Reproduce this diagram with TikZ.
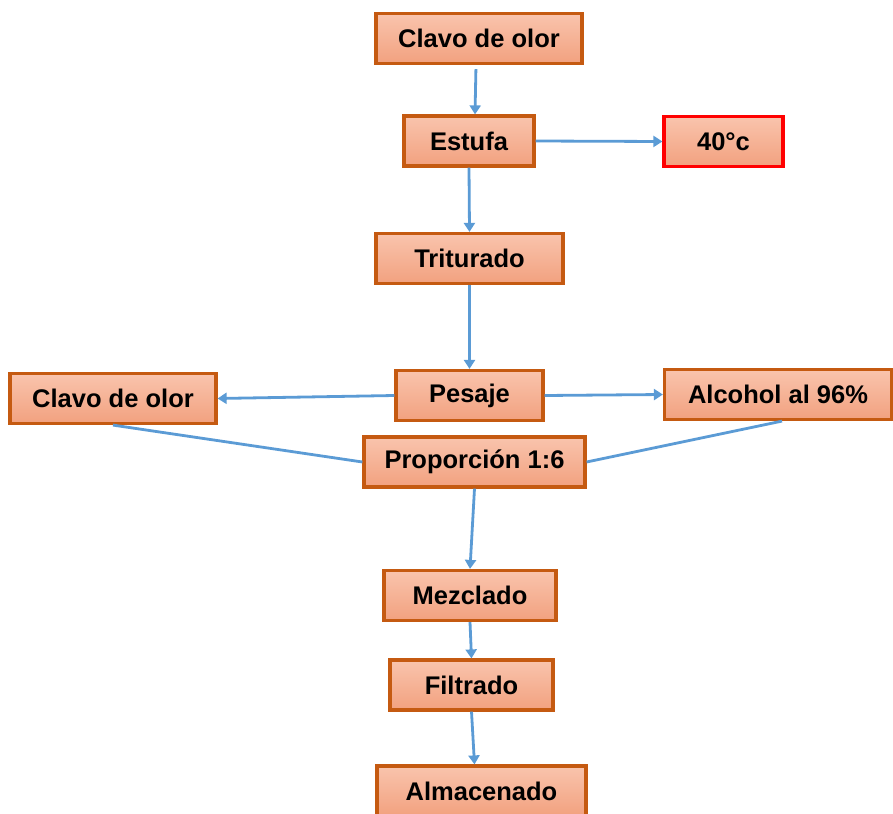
\documentclass[tikz,border=0pt]{standalone}
\usepackage{fontspec}
\setmainfont{Liberation Sans}
\usetikzlibrary{arrows.meta}

\definecolor{stageedge}{HTML}{C55A11}
\definecolor{stagetop}{HTML}{F9C4AD}
\definecolor{stagebottom}{HTML}{F2A17F}
\definecolor{flowblue}{HTML}{5B9BD5}

\begin{document}
\begin{tikzpicture}[
      x=1pt, y=-1pt,
      every node/.style={font=\fontsize{25.5}{30}\selectfont\bfseries},
      stage/.style={draw=stageedge, line width=3.2pt, top color=stagetop, bottom color=stagebottom, minimum height=50pt, inner sep=0pt},
      flow/.style={draw=flowblue, line width=2.8pt, -{Triangle[width=11pt,length=9pt]}},
      link/.style={draw=flowblue, line width=2.8pt}
    ]
      \useasboundingbox (0,0) rectangle (893,813);

      % main line
      \node[stage, minimum width=206pt] (clavoA) at (479,38.5) {Clavo de olor};
      \node[stage, minimum width=130pt] (estufa) at (469,141) {Estufa};
      \node[stage, minimum width=119pt, draw=red] (temp) at (723.5,141.5) {40°c};
      \node[stage, minimum width=187pt] (triturado) at (469.5,258.5) {Triturado};
      \node[stage, minimum width=147pt] (pesaje) at (469.5,395.5) {Pesaje};
      \node[stage, minimum width=206pt] (clavoB) at (113,398.5) {Clavo de olor};
      \node[stage, minimum width=227pt] (alcohol) at (778,394.5) {Alcohol al 96\%};
      \node[stage, minimum width=221pt] (proporcion) at (474.5,462) {Proporción 1:6};
      \node[stage, minimum width=172pt] (mezclado) at (470,595.5) {Mezclado};
      \node[stage, minimum width=163pt] (filtrado) at (471.5,685) {Filtrado};
      \node[stage, minimum width=209pt] (almacenado) at (481.5,791) {Almacenado};

      % connectors
      \draw[flow, shorten <=4pt] ([xshift=-3pt]clavoA.south) -- ([xshift=6pt]estufa.north);
      \draw[flow] (estufa.east) -- (temp.west);
      \draw[flow] (estufa.south) -- (triturado.north);
      \draw[flow] (triturado.south) -- (pesaje.north);
      \draw[flow] (pesaje.west) -- (clavoB.east);
      \draw[flow] (pesaje.east) -- (alcohol.west);
      \draw[link] (clavoB.south) -- (proporcion.west);
      \draw[link] ([xshift=4pt]alcohol.south) -- (proporcion.east);
      \draw[flow] (proporcion.south) -- (mezclado.north);
      \draw[flow] (mezclado.south) -- (filtrado.north);
      \draw[flow] (filtrado.south) -- ([xshift=-7pt]almacenado.north);
    \end{tikzpicture}
\end{document}
